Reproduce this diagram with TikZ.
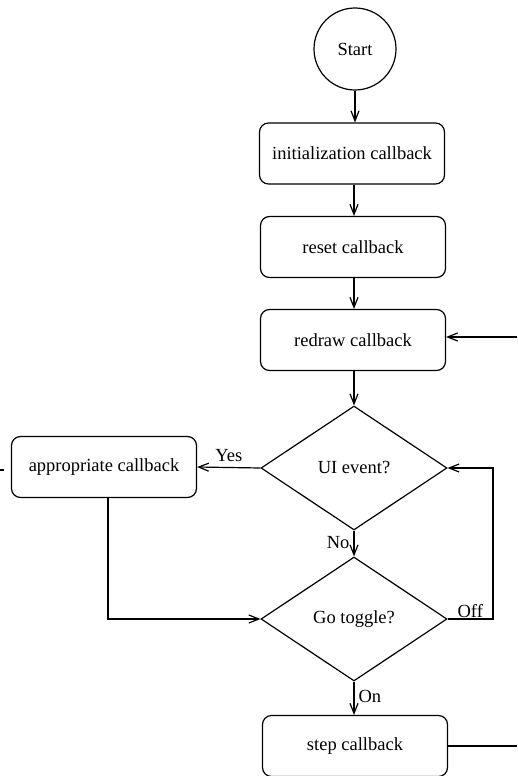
\documentclass[tikz,border=0pt]{standalone}
\usepackage{fontspec}
\setmainfont{Liberation Serif}
\usetikzlibrary{shapes.geometric,arrows.meta}
\begin{document}
\begin{tikzpicture}[x=1pt,y=-1pt,
  font=\fontsize{18.5}{21}\selectfont,
  line width=1.2pt,
  box/.style={draw, rounded corners=9pt, minimum width=185pt, minimum height=61pt, inner sep=0pt},
  dec/.style={draw, diamond, minimum width=186pt, minimum height=124pt, inner sep=0pt},
  arr/.style={-{Straight Barb[length=10pt,width=8pt]}},
  lab/.style={inner sep=0pt}]
\useasboundingbox (0,0) rectangle (517,776);
\node[draw, circle, minimum size=82pt, inner sep=0pt] (start) at (355,49) {Start};
\node[box] (init) at (352,153.5) {initialization callback};
\node[box] (reset) at (353,247) {reset callback};
\node[box] (redraw) at (353,340) {redraw callback};
\node[dec] (ui) at (354,468) {UI event?};
\node[dec] (go) at (354,619) {Go toggle?};
\node[box] (step) at (355,746) {step callback};
\node[box] (appr) at (104,467) {appropriate callback};
\coordinate (rin) at (517,337);
\coordinate (rout) at (517,746);
\coordinate (offx) at (493,619);
\coordinate (stubA) at (0,470);
\coordinate (stubB) at (4,470);
\draw[arr] (start.south -| 355,0) -- (init.north -| 355,0);
\draw[arr] (init.south -| 354,0) -- (reset.north -| 354,0);
\draw[arr] (reset.south -| 354,0) -- (redraw.north -| 354,0);
\draw[arr] (redraw.south -| 354,0) -- (ui.north);
\draw[arr] (ui.south) -- (go.north) node[lab, pos=0.45, left=4pt] {No};
\draw[arr] (go.south) -- (step.north -| go.south) node[lab, pos=0.45, right=4pt] {On};
\draw[arr] (ui.west) -- (appr.east) node[lab, midway, above=5pt] {Yes};
\draw[arr] (appr.south -| 108,0) |- (go.west);
\draw[arr] (go.east) -- (offx) node[lab, midway, above=1pt] {Off} |- (ui.east);
\draw[arr] (rin) -- (redraw.east |- rin);
\draw (step.east) -- (rout);
\draw (stubA) -- (stubB);
\end{tikzpicture}
\end{document}
